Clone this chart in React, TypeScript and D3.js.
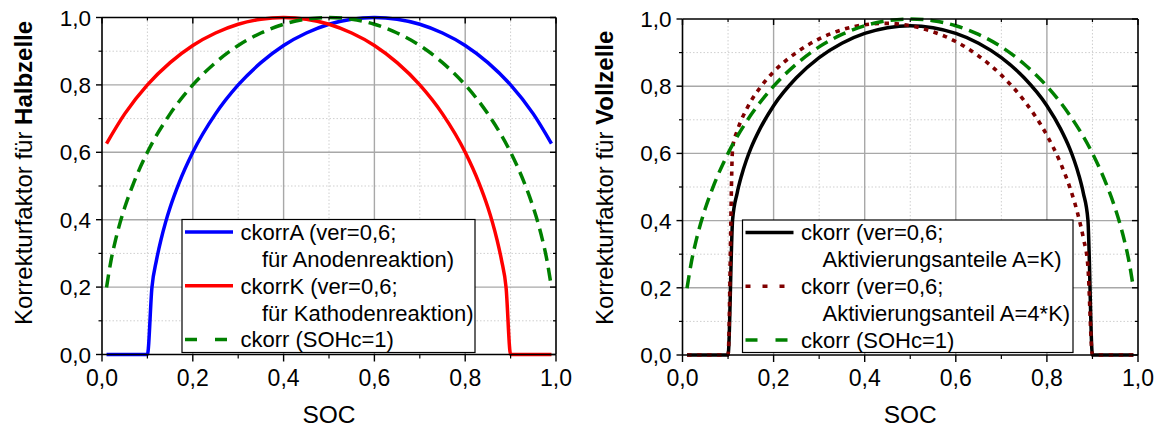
import React from "react";
import * as d3 from "d3";

// ---------- data ----------
const socA = [0.01, 0.1, 0.11, 0.12, 0.13, 0.14, 0.15, 0.17, 0.2, 0.25, 0.3, 0.35, 0.4, 0.45, 0.5, 0.55, 0.6, 0.65, 0.7, 0.75, 0.8, 0.85, 0.9, 0.95, 0.99];
const ckorrA = [0, 0, 0.199, 0.280, 0.341, 0.392, 0.436, 0.510, 0.600, 0.714, 0.800, 0.866, 0.917, 0.954, 0.980, 0.995, 1.000, 0.995, 0.980, 0.954, 0.917, 0.866, 0.800, 0.714, 0.626];

const socK = [0.01, 0.05, 0.1, 0.15, 0.2, 0.25, 0.3, 0.35, 0.4, 0.45, 0.5, 0.55, 0.6, 0.65, 0.7, 0.75, 0.8, 0.83, 0.85, 0.86, 0.87, 0.88, 0.89, 0.9, 0.99];
const ckorrK = [0.626, 0.714, 0.800, 0.866, 0.917, 0.954, 0.980, 0.995, 1.000, 0.995, 0.980, 0.954, 0.917, 0.866, 0.800, 0.714, 0.600, 0.510, 0.436, 0.392, 0.341, 0.280, 0.199, 0, 0];

const socS = [0.01, 0.02, 0.03, 0.04, 0.05, 0.07, 0.1, 0.15, 0.2, 0.25, 0.3, 0.35, 0.4, 0.45, 0.5, 0.55, 0.6, 0.65, 0.7, 0.75, 0.8, 0.85, 0.9, 0.93, 0.95, 0.96, 0.97, 0.98, 0.99];
const ckorrSOHc = [0.199, 0.280, 0.341, 0.392, 0.436, 0.510, 0.600, 0.714, 0.800, 0.866, 0.917, 0.954, 0.980, 0.995, 1.000, 0.995, 0.980, 0.954, 0.917, 0.866, 0.800, 0.714, 0.600, 0.510, 0.436, 0.392, 0.341, 0.280, 0.199];

const socF = [0.01, 0.1, 0.11, 0.12, 0.13, 0.14, 0.15, 0.17, 0.2, 0.25, 0.3, 0.35, 0.4, 0.45, 0.5, 0.55, 0.6, 0.65, 0.7, 0.75, 0.8, 0.83, 0.85, 0.86, 0.87, 0.88, 0.89, 0.9, 0.99];
const ckorrAK = [0, 0, 0.403, 0.482, 0.536, 0.579, 0.615, 0.673, 0.742, 0.825, 0.885, 0.928, 0.957, 0.974, 0.980, 0.974, 0.957, 0.928, 0.885, 0.825, 0.742, 0.673, 0.615, 0.579, 0.536, 0.482, 0.403, 0, 0];
const ckorr4K = [0, 0, 0.615, 0.667, 0.702, 0.730, 0.755, 0.795, 0.843, 0.900, 0.941, 0.968, 0.983, 0.987, 0.980, 0.962, 0.933, 0.890, 0.833, 0.757, 0.654, 0.571, 0.500, 0.458, 0.408, 0.348, 0.264, 0, 0];

const majorTicks = [0, 0.2, 0.4, 0.6, 0.8, 1.0];
const minorTicks = [0.1, 0.3, 0.5, 0.7, 0.9];

const legendLeft = ["ckorrA (ver=0,6;", "für Anodenreaktion)", "ckorrK (ver=0,6;", "für Kathodenreaktion)", "ckorr (SOHc=1)"];
const legendRight = ["ckorr (ver=0,6;", "Aktivierungsanteile A=K)", "ckorr (ver=0,6;", "Aktivierungsanteil A=4*K)", "ckorr (SOHc=1)"];

const xTitle = "SOC";
const yTitlePrefix = "Korrekturfaktor für ";

const FONT = "'Liberation Sans', Arial, Helvetica, sans-serif";
const fmt = (v: number) => v.toFixed(1).replace(".", ",");

type Series = { x: number[]; y: number[]; color: string; dash?: string; legendDash?: string; width?: number };

function Panel(props: {
  x0: number; x1: number; yTop: number; yBot: number;
  series: Series[]; legendTexts: string[];
  box: [number, number, number, number];
  titleBold: string; titleX: number;
}) {
  const { x0, x1, yTop, yBot, series, legendTexts, box, titleBold, titleX } = props;
  const x = d3.scaleLinear().domain([0, 1]).range([x0, x1]);
  const y = d3.scaleLinear().domain([0, 1]).range([yBot, yTop]);
  const line = (s: Series) =>
    d3.line<number>().x((_, i) => x(s.x[i])).y((v) => y(v)).curve(d3.curveMonotoneX)(s.y) || "";

  const [bl, bt, br, bb] = box;
  const rowH = 26.9;
  const rowCenter = (r: number) => bt + 12.5 + r * rowH;
  const indentRows = [1, 3];
  const sampleRows = [0, 2, 4];

  return (
    <g>
      {minorTicks.map((t) => (
        <g key={"mg" + t}>
          <line x1={x(t)} x2={x(t)} y1={yTop} y2={yBot} stroke="#cfcfcf" strokeWidth={1} strokeDasharray="1.5,2" />
          <line x1={x0} x2={x1} y1={y(t)} y2={y(t)} stroke="#cfcfcf" strokeWidth={1} strokeDasharray="1.5,2" />
        </g>
      ))}
      {majorTicks.slice(1, -1).map((t) => (
        <g key={"Mg" + t}>
          <line x1={x(t)} x2={x(t)} y1={yTop} y2={yBot} stroke="#a8a8a8" strokeWidth={1.4} />
          <line x1={x0} x2={x1} y1={y(t)} y2={y(t)} stroke="#a8a8a8" strokeWidth={1.4} />
        </g>
      ))}
      {series.map((s, i) => (
        <path key={"s" + i} d={line(s)} fill="none" stroke={s.color} strokeWidth={s.width ?? 3.5}
          strokeDasharray={s.dash} strokeLinejoin="round" />
      ))}
      <rect x={bl} y={bt} width={br - bl} height={bb - bt} fill="#fff" stroke="#000" strokeWidth={1.2} />
      {sampleRows.map((r, i) => {
        const s = series[i];
        return (
          <line key={"ls" + r} x1={bl + 3} x2={bl + (s.legendDash ? 45 : 51)} y1={rowCenter(r)} y2={rowCenter(r)}
            stroke={s.color} strokeWidth={s.width ?? 3.5} strokeDasharray={s.legendDash} />
        );
      })}
      {legendTexts.map((t, r) => (
        <text key={"lt" + r} x={bl + (indentRows.includes(r) ? 80 : 58.5)} y={rowCenter(r) + 7.8}
          fontFamily={FONT} fontSize={22} fill="#000">{t}</text>
      ))}
      <line x1={x0} x2={x1} y1={yBot} y2={yBot} stroke="#000" strokeWidth={1.6} />
      <line x1={x0} x2={x1} y1={yTop} y2={yTop} stroke="#000" strokeWidth={1.6} />
      <line x1={x0} x2={x0} y1={yTop} y2={yBot} stroke="#000" strokeWidth={1.6} />
      <line x1={x1} x2={x1} y1={yTop} y2={yBot} stroke="#000" strokeWidth={1.6} />
      {majorTicks.map((t) => (
        <g key={"mt" + t}>
          <line x1={x(t)} x2={x(t)} y1={yBot} y2={yBot + 7} stroke="#000" strokeWidth={1.4} />
          <line x1={x(t)} x2={x(t)} y1={yTop} y2={yTop + 6} stroke="#000" strokeWidth={1.4} />
          <line x1={x0 - 6} x2={x0} y1={y(t)} y2={y(t)} stroke="#000" strokeWidth={1.4} />
          <line x1={x1 - 6} x2={x1} y1={y(t)} y2={y(t)} stroke="#000" strokeWidth={1.4} />
          <text x={x(t)} y={385.5} textAnchor="middle" fontFamily={FONT} fontSize={23} fill="#000">{fmt(t)}</text>
          <text x={x0 - 11} y={y(t) + 8} textAnchor="end" fontFamily={FONT} fontSize={22.5} fill="#000">{fmt(t)}</text>
        </g>
      ))}
      {minorTicks.map((t) => (
        <g key={"nt" + t}>
          <line x1={x(t)} x2={x(t)} y1={yBot} y2={yBot + 4} stroke="#000" strokeWidth={1.2} />
          <line x1={x(t)} x2={x(t)} y1={yTop} y2={yTop + 3} stroke="#000" strokeWidth={1.2} />
          <line x1={x0 - 3.5} x2={x0} y1={y(t)} y2={y(t)} stroke="#000" strokeWidth={1.2} />
          <line x1={x1 - 3} x2={x1} y1={y(t)} y2={y(t)} stroke="#000" strokeWidth={1.2} />
        </g>
      ))}
      <text x={(x0 + x1) / 2} y={423} textAnchor="middle" fontFamily={FONT} fontSize={24.5} fill="#000">{xTitle}</text>
      <text transform={`translate(${titleX},325) rotate(-90)`} fontFamily={FONT} fontSize={24} fill="#000">
        {yTitlePrefix}
        <tspan fontWeight="bold">{titleBold}</tspan>
      </text>
    </g>
  );
}

export default function App() {
  const leftSeries: Series[] = [
    { x: socA, y: ckorrA, color: "#0000ff" },
    { x: socK, y: ckorrK, color: "#ff0000" },
    { x: socS, y: ckorrSOHc, color: "#008000", dash: "13,7", legendDash: "12,18" },
  ];
  const rightSeries: Series[] = [
    { x: socF, y: ckorrAK, color: "#000000" },
    { x: socF, y: ckorr4K, color: "#800000", dash: "4.5,5.5", legendDash: "5,12", width: 3.6 },
    { x: socS, y: ckorrSOHc, color: "#008000", dash: "13,7", legendDash: "12,18" },
  ];
  return (
    <svg width={1158} height={428} style={{ position: "absolute", left: 0, top: 0, background: "#fff" }}>
      <rect width={1158} height={428} fill="#fff" />
      <Panel x0={102} x1={556} yTop={17.5} yBot={354.5} series={leftSeries} legendTexts={legendLeft}
        box={[182, 219.5, 475, 352.5]} titleBold="Halbzelle" titleX={32} />
      <Panel x0={682.5} x1={1138} yTop={19} yBot={355} series={rightSeries} legendTexts={legendRight}
        box={[742.5, 220, 1073, 352.5]} titleBold="Vollzelle" titleX={612.5} />
    </svg>
  );
}
